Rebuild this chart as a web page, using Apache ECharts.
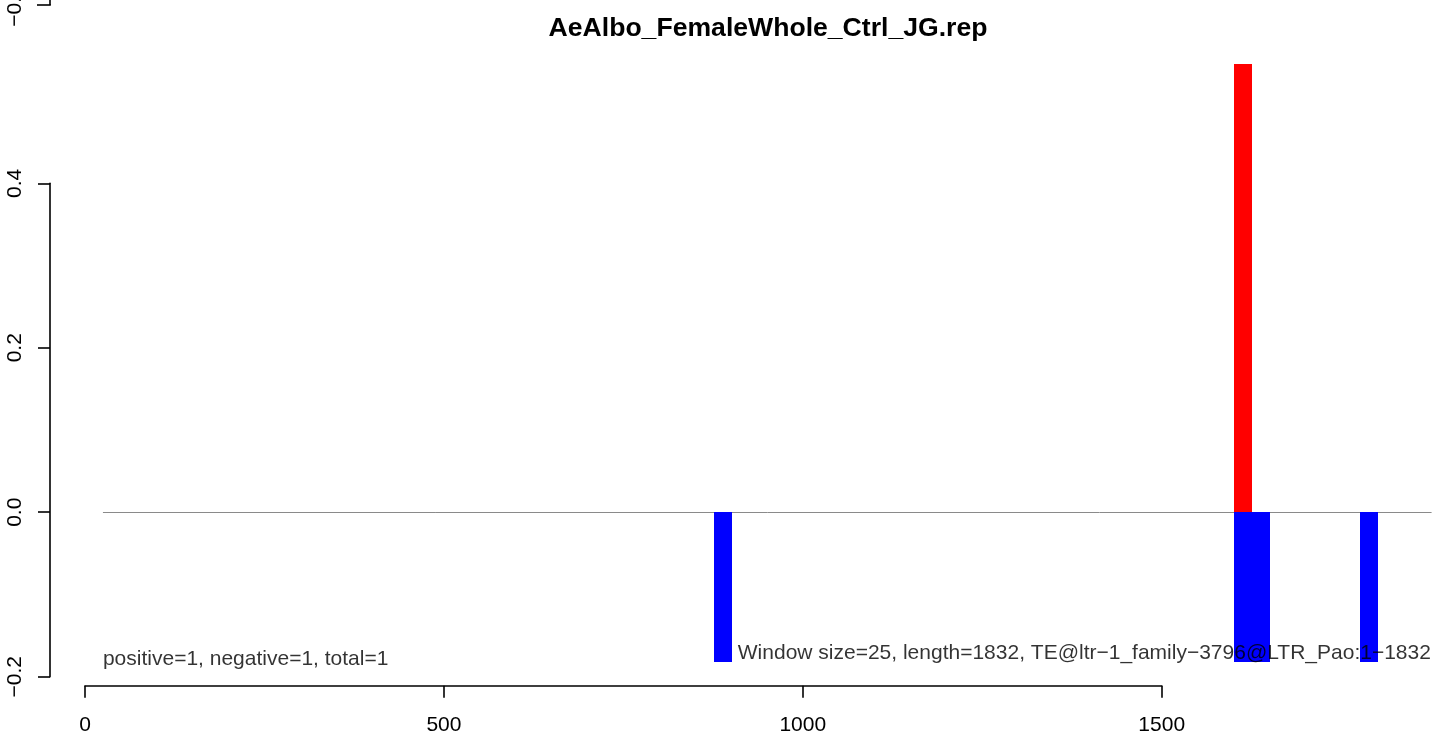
<!DOCTYPE html>
<html>
<head>
<meta charset="utf-8">
<script src="https://cdn.jsdelivr.net/npm/echarts@6/dist/echarts.min.js"></script>
<style>
html,body{margin:0;padding:0;background:#fff;}
#chart{width:1449px;height:736px;}
</style>
</head>
<body>
<div id="chart"></div>
<script>
// ---- data ----
const chartTitle = 'AeAlbo_FemaleWhole_Ctrl_JG.rep';
const windowSize = 25;
const positiveStarts = [1601];
const positiveValues = [0.545];
const negativeStarts = [876, 1601, 1626, 1776];
const negativeValues = [-0.182, -0.182, -0.182, -0.182];
const baselineRange = [25, 1876];
const xTicks = [0, 500, 1000, 1500];
const yTicks = [-0.2, 0.0, 0.2, 0.4];
const leftNote = 'positive=1, negative=1, total=1';
const rightNote = 'Window size=25, length=1832, TE@ltr\u22121_family\u22123796@LTR_Pao:1\u22121832';
const strayLabel = '\u22120.6';

const FONT = '"Liberation Sans", Arial, Helvetica, sans-serif';
const chart = echarts.init(document.getElementById('chart'), null, {renderer: 'canvas'});

function barRender(params, api) {
  const start = api.value(0);
  const val = api.value(1);
  const p0 = api.coord([start, 0]);
  const p1 = api.coord([start + windowSize, val]);
  const x0 = Math.round(p0[0]), x1 = Math.round(p1[0]);
  const y0 = Math.round(p0[1]), y1 = Math.round(p1[1]);
  return {
    type: 'rect',
    shape: {x: x0, y: Math.min(y0, y1), width: x1 - x0, height: Math.abs(y1 - y0)},
    style: {fill: api.visual('color')}
  };
}

function baselineRender(params, api) {
  const a = api.coord([api.value(0), 0]);
  const b = api.coord([api.value(1), 0]);
  return {
    type: 'line',
    shape: {x1: a[0], y1: Math.round(a[1]) + 0.5, x2: b[0], y2: Math.round(b[1]) + 0.5},
    style: {stroke: '#8a8a8a', lineWidth: 1}
  };
}

const fmtNum = v => {
  const s = (Math.abs(v) < 1e-9 ? 0 : v).toFixed(1);
  return s.replace('-', '\u2212');
};

const labelStyle = {color: '#000', fontFamily: FONT, fontSize: 21};

const option = {
  backgroundColor: '#ffffff',
  animation: false,
  title: {
    text: chartTitle,
    left: 763,
    top: 10.5,
    textAlign: 'center',
    textStyle: {fontFamily: FONT, fontSize: 26.6, fontWeight: 'bold', color: '#000'}
  },
  grid: {left: 85, top: 183.3, width: 1076.7, height: 493.4, containLabel: false},
  xAxis: {
    type: 'value',
    min: xTicks[0],
    max: xTicks[xTicks.length - 1],
    interval: 500,
    offset: 9,
    axisLine: {show: true, onZero: false, lineStyle: {color: '#000', width: 1.6}},
    axisTick: {show: true, length: 12, lineStyle: {color: '#000', width: 1.6}},
    axisLabel: Object.assign({margin: 29, formatter: v => String(v)}, labelStyle),
    splitLine: {show: false}
  },
  yAxis: {
    type: 'value',
    min: yTicks[0],
    max: yTicks[yTicks.length - 1],
    interval: 0.2,
    offset: 35,
    axisLine: {show: true, onZero: false, lineStyle: {color: '#000', width: 1.6}},
    axisTick: {show: true, length: 12, lineStyle: {color: '#000', width: 1.6}},
    axisLabel: Object.assign({margin: 24, rotate: 90, formatter: fmtNum}, labelStyle),
    splitLine: {show: false}
  },
  series: [
    {
      type: 'custom',
      name: 'baseline',
      clip: false,
      silent: true,
      renderItem: baselineRender,
      data: [[baselineRange[0], baselineRange[1]]],
      z: 1
    },
    {
      type: 'custom',
      name: 'negative',
      clip: false,
      itemStyle: {color: '#0000ff'},
      renderItem: barRender,
      data: negativeStarts.map((s, i) => [s, negativeValues[i]]),
      z: 2
    },
    {
      type: 'custom',
      name: 'positive',
      clip: false,
      itemStyle: {color: '#ff0000'},
      renderItem: barRender,
      data: positiveStarts.map((s, i) => [s, positiveValues[i]]),
      z: 2
    },
    {
      type: 'scatter',
      symbolSize: 0,
      clip: false,
      silent: true,
      z: 5,
      data: [
        {value: [baselineRange[0], -0.179], label: Object.assign({formatter: leftNote, align: 'left'}, labelStyle)},
        {value: [1875, -0.1717], label: Object.assign({formatter: rightNote, align: 'right'}, labelStyle)}
      ],
      label: Object.assign({show: true, position: 'inside', verticalAlign: 'middle'}, labelStyle)
    }
  ],
  graphic: [
    {type: 'line', shape: {x1: 37, y1: 5, x2: 50.8, y2: 5}, style: {stroke: '#000', lineWidth: 1.6}},
    {type: 'line', shape: {x1: 50, y1: -2, x2: 50, y2: 5}, style: {stroke: '#000', lineWidth: 1.6}},
    {type: 'text', x: 15, y: 6, rotation: Math.PI / 2,
      style: {text: strayLabel, font: '21px ' + FONT, fill: '#000', textAlign: 'center', textVerticalAlign: 'middle'}}
  ]
};
chart.setOption(option);
</script>
</body>
</html>
